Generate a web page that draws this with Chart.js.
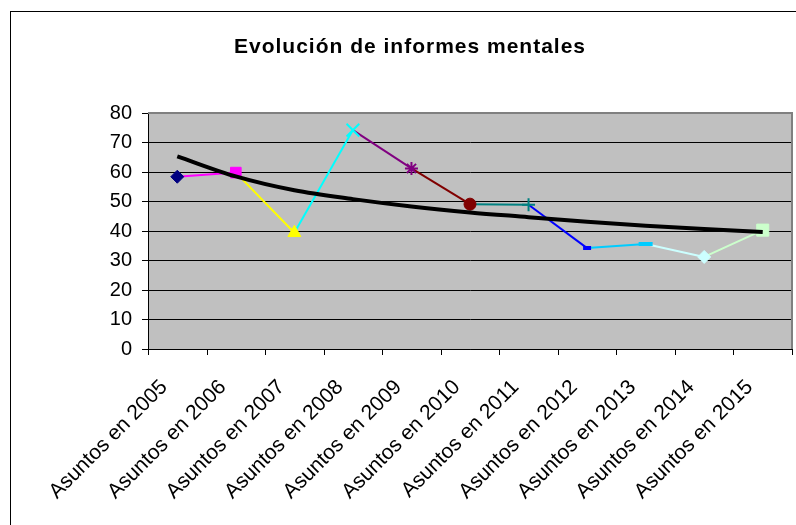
<!DOCTYPE html>
<html><head><meta charset="utf-8">
<script src="https://cdn.jsdelivr.net/npm/chart.js@4"></script>
<style>html,body{margin:0;padding:0;background:#fff;}canvas{display:block;}</style>
</head><body>
<canvas id="c" width="796" height="525"></canvas>
<script>
const titleText = 'Evolución de informes mentales';
const categories = ['Asuntos en 2005','Asuntos en 2006','Asuntos en 2007','Asuntos en 2008','Asuntos en 2009','Asuntos en 2010','Asuntos en 2011','Asuntos en 2012','Asuntos en 2013','Asuntos en 2014','Asuntos en 2015'];
const values = [58.4, 59.8, 39.4, 74.2, 61.2, 49.1, 48.9, 34.2, 35.6, 31.2, 40.3];
const trendValues = [65.3, 58.5, 53.8, 50.8, 48.3, 46.3, 44.7, 43.1, 41.8, 40.7, 39.7];
const yTicks = [0, 10, 20, 30, 40, 50, 60, 70, 80];
const pointColors = ['#000080','#FF00FF','#FFFF00','#00FFFF','#800080','#800000','#008080','#0000FF','#00CCFF','#CCFFFF','#CCFFCC'];
const pointStyles = ['rectRot','rect','triangle','crossRot','star','circle','cross','line','line','rectRot','rect'];
const pointSizes = [6.5, 7.5, 7.5, 9, 6.5, 6, 6.5, 4, 7, 6.5, 8.5];
const pointBorders = [1, 1, 1, 2, 2, 1, 2, 4, 4, 1, 1];

const FONT = 'Arial, "Liberation Sans", sans-serif';

const frame = {
  id: 'frame',
  beforeDraw(chart) {
    const {ctx, chartArea: a} = chart;
    ctx.save();
    ctx.fillStyle = '#fff';
    ctx.fillRect(0, 0, chart.width, chart.height);
    ctx.strokeStyle = '#000';
    ctx.lineWidth = 1;
    ctx.strokeRect(10.5, 11.5, 900, 700);
    ctx.fillStyle = '#C0C0C0';
    ctx.fillRect(a.left, a.top, a.right - a.left, a.bottom - a.top);
    ctx.restore();
  },
  beforeDatasetsDraw(chart) {
    const {ctx, chartArea: a} = chart;
    ctx.save();
    ctx.strokeStyle = '#808080';
    ctx.lineWidth = 2;
    ctx.beginPath();
    ctx.moveTo(a.left, a.top);
    ctx.lineTo(a.right, a.top);
    ctx.lineTo(a.right, a.bottom);
    ctx.stroke();
    // x tick marks at category boundaries
    const xs = chart.scales.x;
    ctx.strokeStyle = '#000';
    ctx.lineWidth = 1;
    ctx.beginPath();
    for (let i = 0; i <= categories.length; i++) {
      const px = Math.round(xs.getPixelForValue(i - 0.5)) + 0.5;
      ctx.moveTo(px, a.bottom);
      ctx.lineTo(px, a.bottom + 6);
    }
    ctx.stroke();
    ctx.restore();
  },
  afterDraw(chart) {
    const ctx = chart.ctx;
    ctx.save();
    ctx.fillStyle = '#000';
    ctx.font = 'bold 21px ' + FONT;
    try { ctx.letterSpacing = '1px'; } catch (e) {}
    ctx.textAlign = 'center';
    ctx.textBaseline = 'alphabetic';
    ctx.fillText(titleText, 410, 53);
    ctx.restore();
  }
};

new Chart(document.getElementById('c'), {
  type: 'line',
  data: {
    labels: categories,
    datasets: [
      {
        label: 'Tendencia',
        data: trendValues,
        order: 0,
        borderColor: '#000',
        borderWidth: 4,
        pointRadius: 0,
        cubicInterpolationMode: 'monotone',
        fill: false
      },
      {
        label: 'Asuntos',
        data: values,
        order: 1,
        borderWidth: 2,
        borderColor: '#000',
        segment: { borderColor: c => pointColors[c.p1DataIndex] },
        pointStyle: pointStyles,
        pointRadius: pointSizes,
        pointBackgroundColor: pointColors,
        pointBorderColor: pointColors,
        pointBorderWidth: pointBorders,
        fill: false,
        tension: 0
      }
    ]
  },
  options: {
    responsive: false,
    devicePixelRatio: 1,
    animation: false,
    layout: { autoPadding: false, padding: { left: 0, top: 113, right: 4, bottom: 0 } },
    plugins: { legend: { display: false }, tooltip: { enabled: false }, title: { display: false } },
    scales: {
      x: {
        offset: true,
        grid: { offset: true, drawOnChartArea: false, drawTicks: true, tickLength: 23, tickColor: 'rgba(0,0,0,0)', color: '#000' },
        border: { display: true, color: '#000', width: 1 },
        ticks: { autoSkip: false, maxRotation: 45, minRotation: 45, color: '#000', padding: 3, labelOffset: -13, font: { family: FONT, size: 21 } },
        afterFit: s => { s.height = 176; }
      },
      y: {
        min: yTicks[0],
        max: yTicks[yTicks.length - 1],
        afterBuildTicks: s => { s.ticks = yTicks.map(v => ({ value: v })); },
        grid: { color: '#000', drawTicks: true, tickLength: 6 },
        border: { display: true, color: '#000', width: 1 },
        ticks: { color: '#000', padding: 10, font: { family: FONT, size: 20 } },
        afterFit: s => { s.width = 148; }
      }
    }
  },
  plugins: [frame]
});
</script>
</body></html>
